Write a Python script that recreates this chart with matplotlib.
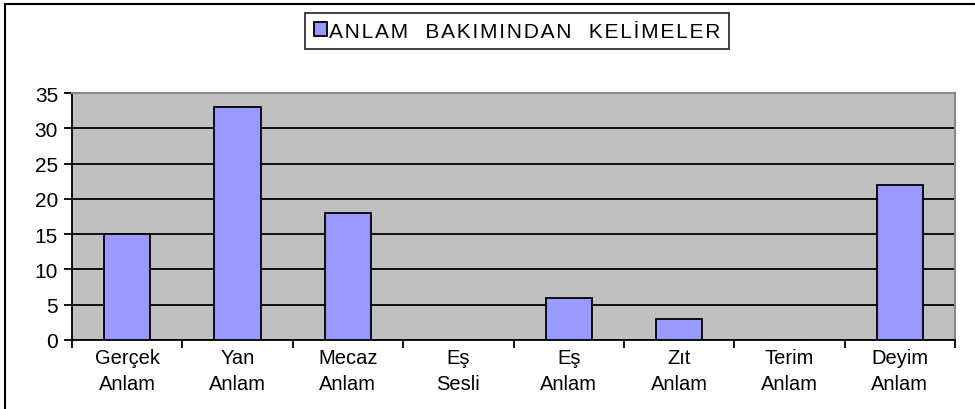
import matplotlib
matplotlib.use("Agg")
import matplotlib.pyplot as plt
from matplotlib.lines import Line2D
import numpy as np

categories = ["Gerçek\nAnlam", "Yan\nAnlam", "Mecaz\nAnlam", "Eş\nSesli",
              "Eş\nAnlam", "Zıt\nAnlam", "Terim\nAnlam", "Deyim\nAnlam"]
values = [15, 33, 18, 0, 6, 3, 0, 22]
series_name = "ANLAM BAKIMINDAN KELİMELER"
yticks = [0, 5, 10, 15, 20, 25, 30, 35]

plt.rcParams['font.family'] = ['Liberation Sans', 'DejaVu Sans']

fig = plt.figure(figsize=(9.75, 4.1), dpi=100)
ax = fig.add_axes([72/975, 1-341/410, (955-72)/975, (341-94)/410])
ax.set_facecolor("#C0C0C0")

x = np.arange(len(categories))
ax.set_xlim(-0.5, len(categories)-0.5)
ax.set_ylim(0, 35)
ax.set_yticks(yticks)
ax.yaxis.grid(True, color="black", linewidth=1.3)
ax.set_axisbelow(True)

# lightly letter-spaced legend label, as drawn by the original
spaced = "   ".join("\u200a".join(w) for w in series_name.split(" "))
ax.bar(x, values, width=0.42, color="#9999FF", edgecolor="black", linewidth=1.3,
       label=spaced, zorder=3)

ax.set_xticks(x)
ax.set_xticklabels(categories, fontsize=14.5, linespacing=1.45)
ax.tick_params(axis='x', length=0, pad=6)
ax.set_xticks(np.arange(-0.5, len(categories)), minor=True)
ax.tick_params(axis='x', which='minor', length=6, width=1.3, direction='out', color='black')
ax.tick_params(axis='y', length=6, width=1.3, direction='out', labelsize=15, pad=4)

for s in ['left', 'bottom']:
    ax.spines[s].set_color('black')
    ax.spines[s].set_linewidth(1.3)
for s in ['top', 'right']:
    ax.spines[s].set_color('#888888')
    ax.spines[s].set_linewidth(1.5)

leg = fig.legend(loc='center', bbox_to_anchor=(517/975, 1-32/410), fontsize=15,
                 frameon=True, fancybox=False, edgecolor='black',
                 handlelength=0.65, handleheight=0.65, handletextpad=0.1,
                 borderpad=0.4, borderaxespad=0)
leg.get_frame().set_linewidth(1.3)

fig.add_artist(Line2D([5/975, 5/975], [0, 1-5/410], color='black', lw=1.5, transform=fig.transFigure))
fig.add_artist(Line2D([5/975, 1], [1-5/410, 1-5/410], color='black', lw=1.5, transform=fig.transFigure))

fig.savefig("out.png", dpi=100)
